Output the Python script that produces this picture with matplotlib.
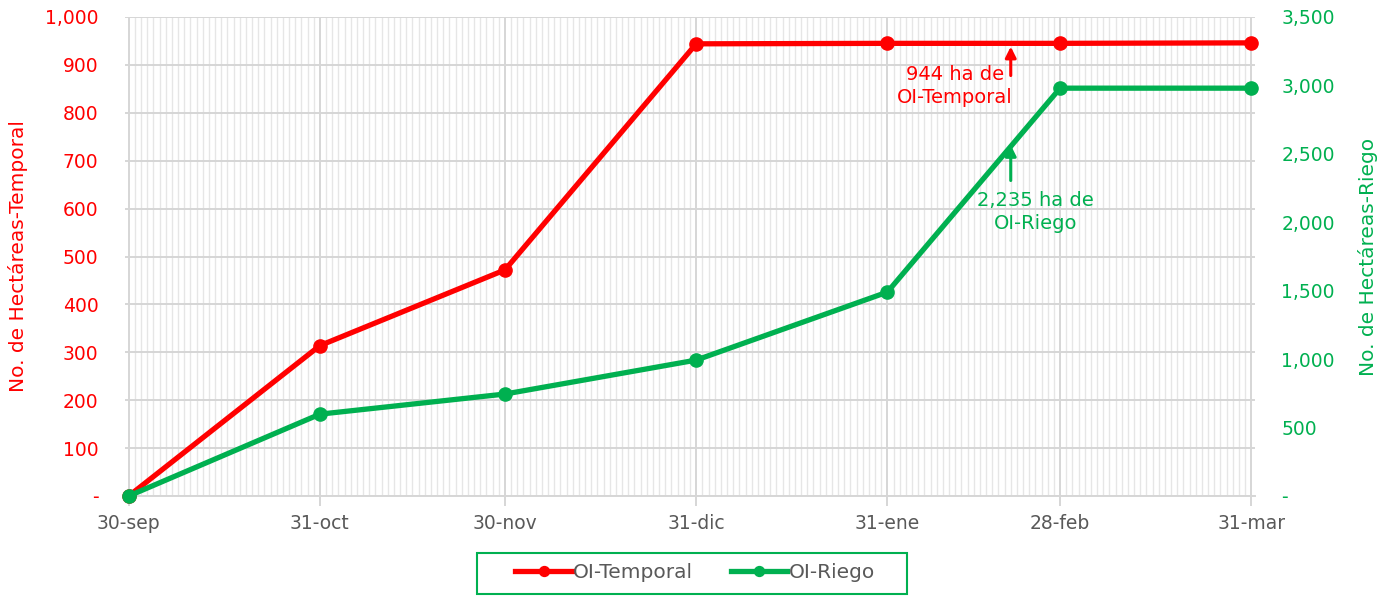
import numpy as np
import pandas as pd
import matplotlib
matplotlib.use("Agg")
import matplotlib.pyplot as plt
import matplotlib.dates as mdates
from matplotlib.patches import Rectangle
from matplotlib.ticker import FuncFormatter, MultipleLocator

plt.rcParams['font.family'] = ['DejaVu Sans']

# data
fechas = pd.to_datetime(['2024-09-30', '2024-10-31', '2024-11-30', '2024-12-31',
                         '2025-01-31', '2025-02-28', '2025-03-31'])
etiquetas = ['30-sep', '31-oct', '30-nov', '31-dic', '31-ene', '28-feb', '31-mar']
temporal = [0, 314, 472, 944, 945, 945, 946]
riego = [0, 598, 745, 993, 1490, 2980, 2980]

ROJO = '#FF0000'
VERDE = '#00B050'
GRIS = '#595959'


def miles(v, pos):
    if abs(v) < 1e-9:
        return '-'
    return f'{v:,.0f}'


fig = plt.figure(figsize=(13.87, 5.96), dpi=100)
ax = fig.add_axes([125 / 1387, 1 - 496 / 596, 1130 / 1387, 479 / 596])
ax2 = ax.twinx()
ax2.patch.set_visible(False)

ax.plot(fechas, temporal, color=ROJO, lw=3.8, marker='o', ms=9.5, label='OI-Temporal',
        clip_on=False, zorder=5)
ax2.plot(fechas, riego, color=VERDE, lw=3.8, marker='o', ms=9.5, label='OI-Riego',
         clip_on=False, zorder=5)

# axes ranges
pad = pd.Timedelta(days=0.6)
ax.set_xlim(fechas[0] - pad, fechas[-1] + pad)
ax.set_ylim(0, 1000)
ax2.set_ylim(0, 3500)

ax.yaxis.set_major_locator(MultipleLocator(100))
ax2.yaxis.set_major_locator(MultipleLocator(500))
ax.yaxis.set_major_formatter(FuncFormatter(miles))
ax2.yaxis.set_major_formatter(FuncFormatter(miles))

ax.set_xticks(fechas)
ax.set_xticklabels(etiquetas)
ax.xaxis.set_minor_locator(mdates.DayLocator())

# grids
ax2.grid(False)
ax.grid(which='minor', axis='x', color='#E6E6E6', lw=1.0)
ax.grid(which='major', axis='x', color='#D6D6D6', lw=1.4)
ax.grid(which='major', axis='y', color='#D6D6D6', lw=1.4)
ax.set_axisbelow(True)

for a in (ax, ax2):
    for s in a.spines.values():
        s.set_visible(False)
ax.spines['bottom'].set_visible(True)
ax.spines['bottom'].set_color('#D6D6D6')
ax.spines['bottom'].set_linewidth(1.4)

ax.tick_params(axis='x', which='major', length=7, color='#D6D6D6', width=1.4,
               labelsize=13.5, labelcolor=GRIS, pad=6)
ax.tick_params(axis='x', which='minor', length=0)
ax.tick_params(axis='y', length=0, labelsize=13.5, labelcolor=ROJO, pad=19)
ax2.tick_params(axis='y', length=0, labelsize=13.5, labelcolor=VERDE, pad=19)

ax.set_ylabel('No. de Hectáreas-Temporal', color=ROJO, fontsize=14.5, labelpad=12.5)
ax2.set_ylabel('No. de Hectáreas-Riego', color=VERDE, fontsize=14.5, labelpad=17)

# annotations
ax.annotate('', xy=(pd.Timestamp('2025-02-20'), 944), xytext=(pd.Timestamp('2025-02-20'), 872),
            arrowprops=dict(arrowstyle='-|>', color=ROJO, lw=2.2, mutation_scale=16),
            zorder=6)
ax.text(pd.Timestamp('2025-02-11'), 856, '944 ha de\nOI-Temporal', color=ROJO, fontsize=14,
        ha='center', va='center', linespacing=1.25)
ax2.annotate('', xy=(pd.Timestamp('2025-02-20'), 2585), xytext=(pd.Timestamp('2025-02-20'), 2285),
             arrowprops=dict(arrowstyle='-|>', color=VERDE, lw=2.2, mutation_scale=16),
             zorder=6)
ax2.text(pd.Timestamp('2025-02-24'), 2075, '2,235 ha de\nOI-Riego', color=VERDE, fontsize=14,
         ha='center', va='center', linespacing=1.25)

# legend (frame drawn separately so it can be wider than the entries)
h1, l1 = ax.get_legend_handles_labels()
h2, l2 = ax2.get_legend_handles_labels()
leg = fig.legend(h1 + h2, l1 + l2, loc='center', bbox_to_anchor=(695 / 1387, 1 - 573 / 596),
                 ncol=2, frameon=False, fontsize=14.5, handlelength=2.8,
                 handletextpad=0.05, columnspacing=1.9, markerscale=0.75)
for t in leg.get_texts():
    t.set_color(GRIS)
fig.patches.append(Rectangle((477 / 1387, 1 - 594 / 596), 430 / 1387, 41 / 596,
                             transform=fig.transFigure, fill=False, edgecolor=VERDE,
                             lw=1.5))

fig.savefig('out.png', dpi=100)
